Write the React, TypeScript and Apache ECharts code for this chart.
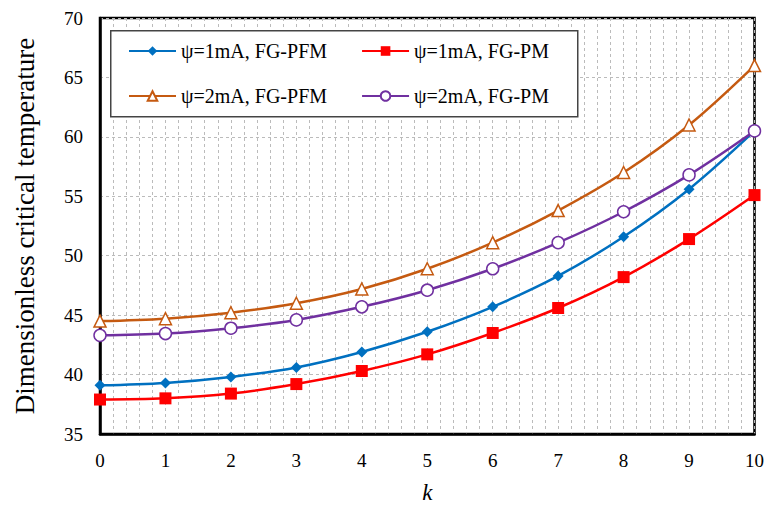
import React, { useEffect, useRef } from "react";
import * as echarts from "echarts";

const kValues = [0, 1, 2, 3, 4, 5, 6, 7, 8, 9, 10];
const psi1PFM = [39.1, 39.3, 39.8, 40.6, 41.9, 43.6, 45.7, 48.3, 51.6, 55.6, 60.5];
const psi1PM = [37.9, 38.0, 38.4, 39.2, 40.3, 41.7, 43.5, 45.6, 48.2, 51.4, 55.1];
const psi2PFM = [44.5, 44.7, 45.2, 46.0, 47.2, 48.9, 51.1, 53.8, 57.0, 61.0, 66.0];
const psi2PM = [43.3, 43.45, 43.9, 44.6, 45.7, 47.1, 48.9, 51.1, 53.7, 56.8, 60.5];

const seriesNames = ["ψ=1mA, FG-PFM", "ψ=1mA, FG-PM", "ψ=2mA, FG-PFM", "ψ=2mA, FG-PM"];
const FONT = "Liberation Serif, Times New Roman, serif";

function pairs(ys: number[]) {
  return kValues.map((k, i) => [k, ys[i]]);
}

export default function App() {
  const ref = useRef<HTMLDivElement>(null);
  useEffect(() => {
    if (!ref.current) return;
    const chart = echarts.init(ref.current, undefined, { renderer: "svg" });
    const lineW = 2.5;
    const mk = (name: string, data: number[], color: string, symbol: string, size: number, hollow: boolean) => ({
      name,
      type: "line",
      smooth: 0.35,
      data: pairs(data),
      symbol,
      symbolSize: size,
      showAllSymbol: true,
      lineStyle: { color, width: lineW },
      itemStyle: hollow
        ? { color: "#fff", borderColor: color, borderWidth: 1.5 }
        : { color, borderColor: color, borderWidth: 0 },
      z: 3,
    });
    const legendCommon = {
      orient: "horizontal" as const,
      itemWidth: 47,
      itemHeight: 12,
      itemGap: 34,
      z: 10,
      textStyle: { fontFamily: FONT, fontSize: 20, color: "#000" },
      selectedMode: false,
    };
    chart.setOption({
      animation: false,
      backgroundColor: "#fff",
      grid: {
        left: 100,
        right: 11,
        top: 18,
        bottom: 72,
        show: true,
        borderColor: "#000",
        borderWidth: 2.5,
        backgroundColor: "transparent",
      },
      legend: [
        { ...legendCommon, left: 123, top: 36, data: [seriesNames[0], seriesNames[1]] },
        { ...legendCommon, left: 123, top: 81, data: [seriesNames[2], seriesNames[3]] },
      ],
      graphic: [
        {
          type: "rect",
          left: 110,
          top: 30,
          shape: { width: 467, height: 86 },
          style: { fill: "#fff", stroke: "#444", lineWidth: 1.5 },
          z: 5,
        },
      ],
      xAxis: {
        type: "value",
        min: 0,
        max: 10,
        interval: 1,
        name: "k",
        nameLocation: "middle",
        nameGap: 47,
        nameTextStyle: { fontFamily: FONT, fontSize: 23, fontStyle: "italic", color: "#000" },
        axisLine: { show: true, lineStyle: { color: "#000", width: 2.5 } },
        axisTick: { show: false },
        axisLabel: { fontFamily: FONT, fontSize: 19, color: "#000", margin: 17 },
        splitLine: { show: true, lineStyle: { color: "#bbb", type: [3, 3], width: 1 } },
        minorTick: { show: false, splitNumber: 5 },
        minorSplitLine: { show: true, lineStyle: { color: "#bbb", type: [3, 3], width: 1 } },
      },
      yAxis: {
        type: "value",
        min: 35,
        max: 70,
        interval: 5,
        name: "Dimensionless critical temperature",
        nameLocation: "middle",
        nameGap: 62,
        nameTextStyle: { fontFamily: FONT, fontSize: 27, color: "#000" },
        axisLine: { show: true, lineStyle: { color: "#000", width: 2.5 } },
        axisTick: { show: false },
        axisLabel: { fontFamily: FONT, fontSize: 19, color: "#000", margin: 17 },
        splitLine: { show: true, lineStyle: { color: "#bbb", type: [3, 3], width: 1 } },
      },
      series: [
        mk(seriesNames[0], psi1PFM, "#0070C0", "diamond", 11, false),
        mk(seriesNames[1], psi1PM, "#FF0000", "rect", 12, false),
        mk(seriesNames[2], psi2PFM, "#C55A11", "triangle", 12, true),
        mk(seriesNames[3], psi2PM, "#7030A0", "circle", 12, true),
      ],
    });
    return () => chart.dispose();
  }, []);
  return <div ref={ref} style={{ position: "fixed", left: 0, top: 0, width: 767, height: 509 }} />;
}
